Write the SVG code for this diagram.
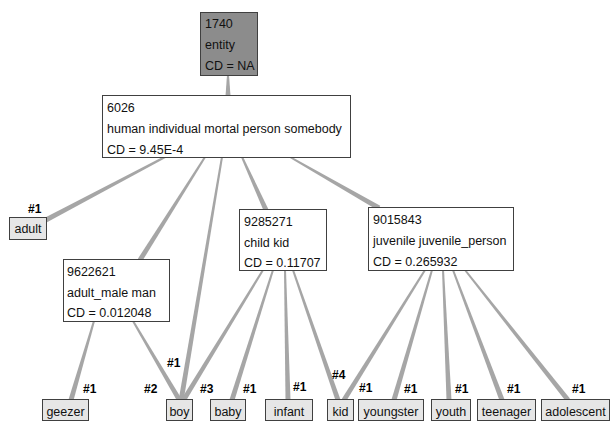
<svg xmlns="http://www.w3.org/2000/svg" width="610" height="421" viewBox="0 0 610 421">
<style>
.bg{fill:#ffffff}
.edge{fill:#a6a6a6;stroke:none}
.node rect{fill:#ffffff;stroke:#404040;stroke-width:1}
.node.root rect{fill:#8c8c8c}
.leaf rect{fill:#e6e6e6;stroke:#404040;stroke-width:1}
text{font-family:"Liberation Sans",Arial,sans-serif;font-size:12.5px;fill:#111111}
.leaf text{text-anchor:middle}
.rank{font-weight:bold;font-size:12px;fill:#000000}
</style>
<rect class="bg" x="0" y="0" width="610" height="421"/>
<g id="connectors">
<polygon class="edge" points="227,75 229,75 230.5,96 225.5,96"/>
<polygon class="edge" points="164.53,156.12 165.47,157.88 45.18,223.2 42.82,218.8"/>
<polygon class="edge" points="204.15,156.47 205.85,157.53 142.11,261.33 137.89,258.67"/>
<polygon class="edge" points="221.01,156.83 222.99,157.17 183.47,401.41 178.53,400.59"/>
<polygon class="edge" points="241.09,157.41 242.91,156.59 268.28,208.97 263.72,211.03"/>
<polygon class="edge" points="289.5,157.87 290.5,156.13 380.24,205.83 377.76,210.17"/>
<polygon class="edge" points="93.04,320.72 94.96,321.28 73.4,400.7 68.6,399.3"/>
<polygon class="edge" points="132.14,321.51 133.86,320.49 182.16,399.73 177.84,402.27"/>
<polygon class="edge" points="262.15,269.48 263.85,270.52 185.13,402.3 180.87,399.7"/>
<polygon class="edge" points="272.05,269.7 273.95,270.3 234.38,400.75 229.62,399.25"/>
<polygon class="edge" points="284,270 286,270 290.5,400 285.5,400"/>
<polygon class="edge" points="292.05,270.33 293.95,269.67 340.36,399.18 335.64,400.82"/>
<polygon class="edge" points="424.15,269.47 425.85,270.53 346.12,401.32 341.88,398.68"/>
<polygon class="edge" points="431.04,269.72 432.96,270.28 396.4,400.7 391.6,399.3"/>
<polygon class="edge" points="442,270.05 444,269.95 451.5,399.88 446.5,400.12"/>
<polygon class="edge" points="452.06,270.35 453.94,269.65 504.34,399.12 499.66,400.88"/>
<polygon class="edge" points="464.22,270.62 465.78,269.38 569.96,398.45 566.04,401.55"/>
<text class="rank" x="28" y="212.5">#1</text>
<text class="rank" x="83" y="392.5">#1</text>
<text class="rank" x="144" y="393">#2</text>
<text class="rank" x="167" y="367">#1</text>
<text class="rank" x="200" y="393">#3</text>
<text class="rank" x="243" y="392.5">#1</text>
<text class="rank" x="293" y="391">#1</text>
<text class="rank" x="332" y="379">#4</text>
<text class="rank" x="359" y="392">#1</text>
<text class="rank" x="404" y="392.5">#1</text>
<text class="rank" x="455" y="392.5">#1</text>
<text class="rank" x="507" y="392.5">#1</text>
<text class="rank" x="572" y="392.5">#1</text>
</g>
<g id="n1740" class="node root">
<rect x="200.5" y="12.5" width="57" height="63"/>
<text x="205" y="28">1740</text>
<text x="205" y="49">entity</text>
<text x="205" y="70">CD = NA</text>
</g>
<g id="n6026" class="node">
<rect x="102.5" y="95.5" width="248" height="62"/>
<text x="107" y="111.5">6026</text>
<text x="107" y="132.5">human individual mortal person somebody</text>
<text x="107" y="153.5">CD = 9.45E-4</text>
</g>
<g id="n9622621" class="node">
<rect x="63.5" y="259.5" width="106" height="62"/>
<text x="67" y="275.5">9622621</text>
<text x="67" y="296.5">adult_male man</text>
<text x="67" y="317">CD = 0.012048</text>
</g>
<g id="n9285271" class="node">
<rect x="239.5" y="209.5" width="87" height="61"/>
<text x="244" y="225.5">9285271</text>
<text x="244" y="246.5">child kid</text>
<text x="244" y="266.5">CD = 0.11707</text>
</g>
<g id="n9015843" class="node">
<rect x="368.5" y="207.5" width="145" height="63"/>
<text x="373" y="223.5">9015843</text>
<text x="373" y="244.5">juvenile juvenile_person</text>
<text x="373" y="265.5">CD = 0.265932</text>
</g>
<g id="adult" class="leaf">
<rect x="9.5" y="217.5" width="37" height="22"/>
<text x="28" y="233">adult</text>
</g>
<g id="geezer" class="leaf">
<rect x="42.5" y="399.5" width="46" height="21"/>
<text x="65.5" y="415.5">geezer</text>
</g>
<g id="boy" class="leaf">
<rect x="166.5" y="399.5" width="26" height="21"/>
<text x="179.5" y="415.5">boy</text>
</g>
<g id="baby" class="leaf">
<rect x="210.5" y="399.5" width="35" height="21"/>
<text x="228" y="415.5">baby</text>
</g>
<g id="infant" class="leaf">
<rect x="265.5" y="399.5" width="47" height="21"/>
<text x="289" y="415.5">infant</text>
</g>
<g id="kid" class="leaf">
<rect x="327.5" y="399.5" width="26" height="21"/>
<text x="340.5" y="415.5">kid</text>
</g>
<g id="youngster" class="leaf">
<rect x="358.5" y="399.5" width="65" height="21"/>
<text x="391" y="415.5">youngster</text>
</g>
<g id="youth" class="leaf">
<rect x="431.5" y="399.5" width="39" height="21"/>
<text x="451" y="415.5">youth</text>
</g>
<g id="teenager" class="leaf">
<rect x="477.5" y="399.5" width="58" height="21"/>
<text x="506.5" y="415.5">teenager</text>
</g>
<g id="adolescent" class="leaf">
<rect x="541.5" y="399.5" width="68" height="21"/>
<text x="575.5" y="415.5">adolescent</text>
</g>
</svg>
